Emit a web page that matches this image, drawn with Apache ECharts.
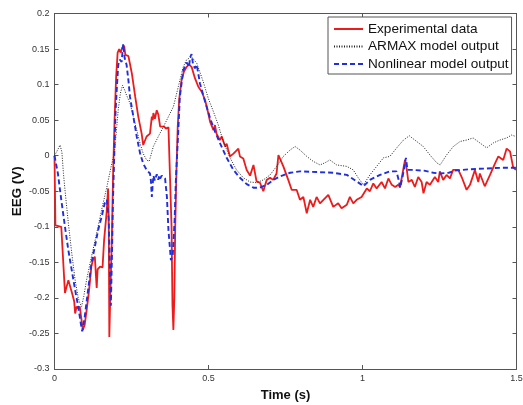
<!DOCTYPE html>
<html>
<head>
<meta charset="utf-8">
<script src="https://cdn.jsdelivr.net/npm/echarts@6/dist/echarts.min.js"></script>
<style>
html,body{margin:0;padding:0;background:#fff;}
#chart{width:523px;height:405px;}
</style>
</head>
<body>
<div id="chart"></div>
<script>
// Experimental data (time in s, EEG in V)
const expTime = [0.000,0.003,0.022,0.034,0.045,0.051,0.058,0.064,0.067,0.072,0.077,0.082,0.085,0.092,0.098,0.105,0.112,0.120,0.126,0.131,0.134,0.137,0.140,0.148,0.156,0.161,0.169,0.174,0.176,0.178,0.181,0.186,0.190,0.195,0.200,0.205,0.210,0.215,0.220,0.226,0.230,0.240,0.245,0.251,0.262,0.272,0.283,0.288,0.294,0.299,0.310,0.316,0.319,0.321,0.326,0.332,0.337,0.343,0.348,0.356,0.362,0.370,0.376,0.380,0.383,0.386,0.389,0.392,0.396,0.400,0.405,0.412,0.420,0.429,0.437,0.445,0.456,0.467,0.478,0.489,0.499,0.505,0.510,0.516,0.521,0.526,0.537,0.543,0.554,0.559,0.564,0.570,0.581,0.597,0.602,0.613,0.624,0.635,0.646,0.656,0.667,0.678,0.689,0.700,0.710,0.721,0.727,0.732,0.743,0.759,0.770,0.786,0.797,0.808,0.819,0.830,0.840,0.851,0.862,0.873,0.889,0.905,0.921,0.932,0.949,0.959,0.970,0.981,0.997,1.014,1.024,1.035,1.046,1.062,1.073,1.084,1.095,1.106,1.116,1.122,1.130,1.138,1.144,1.149,1.160,1.170,1.181,1.192,1.198,1.208,1.219,1.235,1.246,1.251,1.262,1.273,1.284,1.294,1.311,1.322,1.338,1.349,1.365,1.376,1.381,1.397,1.414,1.430,1.441,1.457,1.468,1.479,1.489,1.498];
const expEEG = [0.000,-0.098,-0.100,-0.193,-0.175,-0.177,-0.195,-0.205,-0.222,-0.212,-0.215,-0.212,-0.222,-0.245,-0.238,-0.215,-0.190,-0.155,-0.145,-0.142,-0.165,-0.186,-0.160,-0.156,-0.157,-0.119,-0.081,-0.046,-0.086,-0.255,-0.200,-0.120,-0.030,0.050,0.110,0.145,0.150,0.145,0.152,0.155,0.142,0.140,0.138,0.116,0.083,0.055,0.031,0.015,0.013,0.027,0.031,0.055,0.050,0.060,0.052,0.064,0.058,0.041,0.043,0.041,0.038,0.040,0.038,-0.100,-0.210,-0.245,-0.200,-0.100,-0.020,0.040,0.080,0.105,0.118,0.125,0.128,0.125,0.109,0.097,0.090,0.078,0.060,0.048,0.050,0.036,0.043,0.031,0.022,0.027,0.013,0.017,0.008,-0.001,0.003,0.010,-0.001,-0.004,-0.020,-0.028,-0.013,-0.036,-0.038,-0.050,-0.034,-0.031,-0.034,-0.025,0.001,-0.004,-0.015,-0.034,-0.048,-0.048,-0.062,-0.058,-0.081,-0.062,-0.072,-0.058,-0.067,-0.062,-0.055,-0.072,-0.067,-0.074,-0.069,-0.058,-0.067,-0.062,-0.058,-0.046,-0.050,-0.039,-0.046,-0.037,-0.046,-0.032,-0.041,-0.044,-0.041,-0.044,-0.025,-0.006,-0.020,-0.037,-0.034,-0.044,-0.030,-0.037,-0.053,-0.037,-0.041,-0.030,-0.037,-0.022,-0.034,-0.027,-0.032,-0.020,-0.020,-0.030,-0.048,-0.041,-0.020,-0.037,-0.025,-0.043,-0.027,-0.011,-0.001,-0.006,0.010,0.006,-0.016,-0.020];

// ARMAX model output
const armaxTime = [0.000,0.010,0.018,0.024,0.029,0.034,0.045,0.056,0.067,0.077,0.083,0.088,0.095,0.104,0.120,0.137,0.153,0.169,0.184,0.194,0.200,0.207,0.214,0.221,0.228,0.234,0.245,0.256,0.267,0.278,0.288,0.299,0.307,0.310,0.321,0.337,0.354,0.370,0.386,0.402,0.418,0.429,0.445,0.462,0.483,0.499,0.516,0.532,0.548,0.570,0.591,0.613,0.635,0.656,0.678,0.700,0.721,0.743,0.765,0.781,0.797,0.819,0.840,0.862,0.878,0.894,0.916,0.949,0.970,0.986,1.003,1.024,1.046,1.068,1.089,1.111,1.133,1.152,1.176,1.197,1.219,1.241,1.252,1.273,1.295,1.317,1.338,1.359,1.381,1.403,1.425,1.446,1.468,1.484,1.498];
const armaxEEG = [0.000,0.008,0.015,0.005,-0.025,-0.048,-0.095,-0.137,-0.175,-0.200,-0.208,-0.212,-0.198,-0.175,-0.142,-0.109,-0.076,-0.046,-0.015,0.003,0.030,0.065,0.088,0.099,0.092,0.085,0.074,0.055,0.036,0.017,0.003,-0.006,-0.008,-0.004,0.013,0.027,0.041,0.055,0.069,0.097,0.125,0.135,0.139,0.130,0.104,0.081,0.062,0.043,0.020,-0.003,-0.020,-0.031,-0.037,-0.038,-0.034,-0.027,-0.015,-0.001,0.008,0.013,0.008,-0.001,-0.008,-0.013,-0.010,-0.006,-0.013,-0.015,-0.020,-0.031,-0.041,-0.027,-0.015,-0.003,-0.001,0.011,0.022,0.028,0.020,0.013,0.001,-0.010,-0.013,0.001,0.013,0.020,0.022,0.025,0.018,0.011,0.018,0.022,0.025,0.029,0.027];

// Nonlinear model output
const nlTime = [0.000,0.011,0.022,0.034,0.045,0.056,0.067,0.077,0.085,0.090,0.098,0.109,0.120,0.131,0.142,0.153,0.163,0.170,0.176,0.180,0.183,0.187,0.190,0.194,0.198,0.203,0.207,0.212,0.218,0.223,0.228,0.234,0.240,0.245,0.256,0.267,0.278,0.288,0.299,0.310,0.313,0.316,0.319,0.321,0.326,0.332,0.337,0.340,0.343,0.348,0.354,0.359,0.365,0.370,0.378,0.384,0.390,0.394,0.402,0.407,0.418,0.429,0.437,0.440,0.445,0.450,0.456,0.462,0.472,0.489,0.505,0.521,0.537,0.559,0.581,0.602,0.624,0.646,0.667,0.689,0.711,0.732,0.765,0.797,0.851,0.905,0.949,0.981,1.003,1.024,1.057,1.089,1.110,1.118,1.122,1.130,1.138,1.141,1.146,1.160,1.200,1.230,1.252,1.280,1.300,1.350,1.400,1.450,1.498];
const nlEEG = [0.000,-0.025,-0.062,-0.100,-0.133,-0.161,-0.189,-0.212,-0.235,-0.247,-0.227,-0.189,-0.151,-0.128,-0.104,-0.086,-0.067,-0.062,-0.090,-0.160,-0.211,-0.130,-0.060,0.000,0.060,0.100,0.128,0.135,0.132,0.157,0.137,0.128,0.106,0.083,0.055,0.027,0.003,-0.011,-0.020,-0.025,-0.035,-0.058,-0.040,-0.028,-0.035,-0.026,-0.034,-0.028,-0.032,-0.028,-0.030,-0.032,-0.058,-0.105,-0.147,-0.140,-0.090,-0.035,0.036,0.083,0.120,0.131,0.125,0.138,0.143,0.128,0.123,0.128,0.102,0.076,0.053,0.034,0.018,-0.003,-0.020,-0.031,-0.040,-0.045,-0.045,-0.041,-0.034,-0.029,-0.024,-0.022,-0.023,-0.024,-0.027,-0.036,-0.043,-0.034,-0.027,-0.022,-0.022,-0.035,-0.045,-0.030,-0.010,-0.003,-0.020,-0.020,-0.021,-0.024,-0.025,-0.024,-0.021,-0.019,-0.018,-0.017,-0.017];

const seriesNames = ['Experimental data','ARMAX model output','Nonlinear model output'];

function zip(a, b){ return a.map((t,i)=>[t,b[i]]); }

const chart = echarts.init(document.getElementById('chart'), null, {renderer:'canvas'});
const FONT = '"Liberation Sans", Arial, sans-serif';
const axisLine = {show:true, onZero:false, lineStyle:{color:'#555', width:1}};
const tick = {show:true, inside:true, length:4, lineStyle:{color:'#555'}};

chart.setOption({
  animation:false,
  backgroundColor:'#fff',
  grid:{left:54.5, right:6.5, top:13.5, bottom:36, containLabel:false, outerBoundsMode:'none'},
  legend:{
    data:seriesNames,
    orient:'vertical',
    left:328, top:17,
    padding:[5,3,3,5],
    itemGap:3.5,
    itemWidth:29, itemHeight:14,
    backgroundColor:'#fff',
    borderColor:'#555', borderWidth:1,
    itemStyle:{opacity:0},
    textStyle:{fontFamily:FONT, fontSize:13.6, color:'#111'}
  },
  xAxis:[{
    type:'value', min:0, max:1.5, interval:0.5,
    position:'bottom',
    axisLine, axisTick:tick, splitLine:{show:false},
    axisLabel:{fontFamily:FONT, fontSize:9, color:'#333', margin:5,
      formatter:v=>String(v)},
    name:'Time (s)', nameLocation:'middle', nameGap:20, nameMoveOverlap:false,
    nameTextStyle:{fontFamily:FONT, fontSize:13, fontWeight:'bold', color:'#111'}
  },{
    type:'value', min:0, max:1.5, interval:0.5,
    position:'top',
    axisLine, axisTick:tick, axisLabel:{show:false}, splitLine:{show:false}
  }],
  yAxis:[{
    type:'value', min:-0.3, max:0.2, interval:0.05,
    position:'left',
    axisLine, axisTick:tick, splitLine:{show:false},
    axisLabel:{fontFamily:FONT, fontSize:9, color:'#333', margin:5,
      formatter:v=>String(Math.round(v*100)/100)},
    name:'EEG (V)', nameLocation:'middle', nameGap:31, nameMoveOverlap:false,
    nameTextStyle:{fontFamily:FONT, fontSize:13.4, fontWeight:'bold', color:'#111'}
  },{
    type:'value', min:-0.3, max:0.2, interval:0.05,
    position:'right',
    axisLine, axisTick:tick, axisLabel:{show:false}, splitLine:{show:false}
  }],
  series:[
    {name:seriesNames[0], type:'line', data:zip(expTime, expEEG), symbol:'none', showSymbol:false,
     lineStyle:{color:'#ec1c1c', width:1.8}, itemStyle:{color:'#ec1c1c'}, z:2},
    {name:seriesNames[1], type:'line', data:zip(armaxTime, armaxEEG), symbol:'none', showSymbol:false,
     lineStyle:{color:'#222', width:1, type:[1,1.5]}, itemStyle:{color:'#222'}, z:3},
    {name:seriesNames[2], type:'line', data:zip(nlTime, nlEEG), symbol:'none', showSymbol:false,
     lineStyle:{color:'#1f2fe0', width:1.9, type:[5,3]}, itemStyle:{color:'#1f2fe0'}, z:4}
  ]
});
</script>
</body>
</html>
